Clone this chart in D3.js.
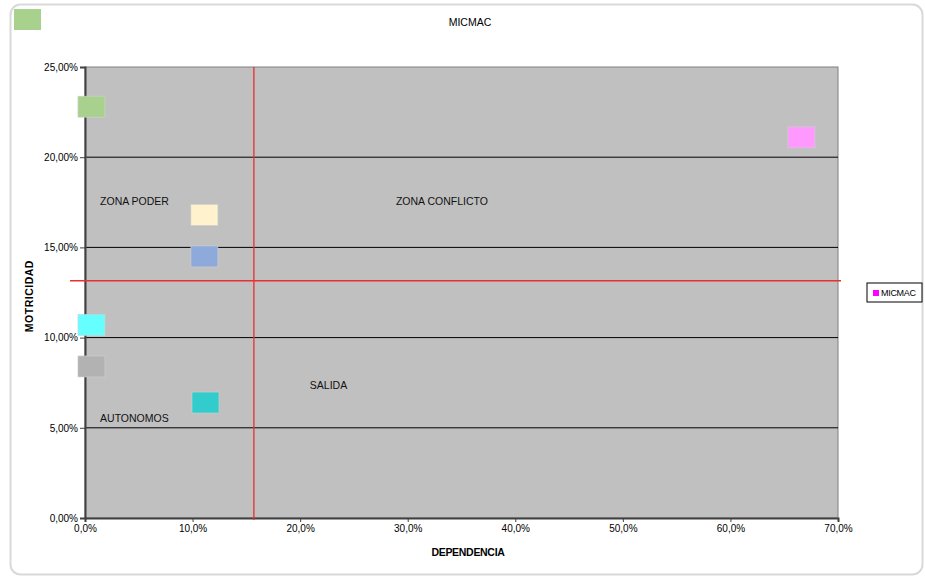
<!DOCTYPE html>
<html lang="en">
<head>
<meta charset="UTF-8">
<title>MICMAC</title>
<script src="https://d3js.org/d3.v7.min.js"></script>
<style>
  body { margin: 0; background: #fff; }
  svg { font-family: "Liberation Sans", Arial, sans-serif; }
  .tick text { font-size: 10px; fill: #000; }
</style>
</head>
<body>
<svg></svg>
<script>
    // dependencia (x) and motricidad (y), in percent
    var dependencia = [0.6, 0.6, 0.6, 11.1, 11.1, 11.2, 66.6];
    var motricidad = [22.8, 10.7, 8.4, 16.8, 14.5, 6.4, 21.1];
    var pointColors = ["#a9d18e", "#66ffff", "#b2b2b2", "#fff2cc", "#8eaadb", "#33cccc", "#ff99ff"];

    var xTicks = [0, 10, 20, 30, 40, 50, 60, 70];
    var yTicks = [0, 5, 10, 15, 20, 25];

    // cut lines
    var cutX = 15.7;
    var cutY = 13.15;

    var zoneNames = ["ZONA PODER", "ZONA CONFLICTO", "SALIDA", "AUTONOMOS"];
    var zoneX = [1.4, 28.9, 20.9, 1.4];
    var zoneY = [17.55, 17.55, 7.35, 5.55];

    var w = 925, h = 579;
    var pad = { top: 67, right: 87, bottom: 61, left: 85 };

    var svg = d3.select("svg").attr("width", w).attr("height", h);

    var x = d3.scaleLinear().domain([0, 70]).range([pad.left, w - pad.right]);
    var y = d3.scaleLinear().domain([0, 25]).range([h - pad.bottom, pad.top]);

    var fmt = function(v) { return v.toFixed(2).replace(".", ",") + "%"; };
    var fmtX = function(v) { return v.toFixed(1).replace(".", ",") + "%"; };

    // outer frame
    svg.append("rect")
        .attr("x", 10.5).attr("y", 4.5)
        .attr("width", 912).attr("height", 570)
        .attr("rx", 10)
        .attr("fill", "#fff")
        .attr("stroke", "#d9d9d9")
        .attr("stroke-width", 2);

    // stray legend swatch
    svg.append("rect")
        .attr("x", 14).attr("y", 9)
        .attr("width", 27).attr("height", 21)
        .attr("fill", pointColors[0]);

    // plot area
    svg.append("rect")
        .attr("x", x(0)).attr("y", y(25))
        .attr("width", x(70) - x(0)).attr("height", y(0) - y(25))
        .attr("fill", "#c0c0c0")
        .attr("stroke", "#808080");

    // gridlines
    svg.append("g")
        .selectAll("line")
        .data(yTicks.filter(d => d > 0 && d < 25))
        .join("line")
        .attr("x1", x(0)).attr("x2", x(70))
        .attr("y1", d => y(d)).attr("y2", d => y(d))
        .attr("stroke", "#000")
        .attr("stroke-width", 1);

    // axes
    var yAxis = d3.axisLeft(y).tickValues(yTicks).tickFormat(fmt).tickSize(5).tickPadding(2);
    var gy = svg.append("g")
        .attr("transform", "translate(" + x(0) + ",0)")
        .call(yAxis);
    gy.select(".domain").attr("stroke", "#404040").attr("stroke-width", 2);
    gy.selectAll(".tick line").attr("stroke", "#404040");

    var xAxis = d3.axisBottom(x).tickValues(xTicks).tickFormat(fmtX).tickSize(4).tickPadding(3);
    var gx = svg.append("g")
        .attr("transform", "translate(0," + y(0) + ")")
        .call(xAxis);
    gx.select(".domain").attr("stroke", "#404040").attr("stroke-width", 2);
    gx.selectAll(".tick line").attr("stroke", "#404040");

    // red cut lines
    svg.append("line")
        .attr("x1", x(cutX)).attr("x2", x(cutX))
        .attr("y1", y(25)).attr("y2", y(0) + 2)
        .attr("stroke", "#e8302e").attr("stroke-width", 1.3);
    svg.append("line")
        .attr("x1", x(0) - 15).attr("x2", x(70) + 3)
        .attr("y1", y(cutY)).attr("y2", y(cutY))
        .attr("stroke", "#e8302e").attr("stroke-width", 1.3);

    // points
    var mw = 27, mh = 21;
    svg.append("g")
        .selectAll("rect")
        .data(dependencia)
        .join("rect")
        .attr("x", (d, i) => x(d) - mw / 2)
        .attr("y", (d, i) => y(motricidad[i]) - mh / 2)
        .attr("width", mw).attr("height", mh)
        .attr("fill", (d, i) => pointColors[i])
        .attr("stroke", "#d0d0d0")
        .attr("stroke-width", 0.6);

    // zone labels
    svg.append("g")
        .selectAll("text")
        .data(zoneNames)
        .join("text")
        .attr("x", (d, i) => x(zoneX[i]))
        .attr("y", (d, i) => y(zoneY[i]))
        .attr("dy", "0.35em")
        .attr("font-size", 10.5)
        .attr("fill", "#111")
        .text(d => d);

    // title
    svg.append("text")
        .attr("x", 470).attr("y", 26)
        .attr("text-anchor", "middle")
        .attr("font-size", 10.5)
        .text("MICMAC");

    // axis titles
    svg.append("text")
        .attr("x", 468).attr("y", 556)
        .attr("text-anchor", "middle")
        .attr("font-size", 10.5)
        .attr("font-weight", "bold")
        .attr("letter-spacing", "-0.3px")
        .text("DEPENDENCIA");

    svg.append("text")
        .attr("transform", "translate(33," + y(12.3) + ") rotate(-90)")
        .attr("text-anchor", "middle")
        .attr("font-size", 10.5)
        .attr("font-weight", "bold")
        .attr("letter-spacing", "0.5px")
        .text("MOTRICIDAD");

    // legend
    var lg = svg.append("g").attr("transform", "translate(867,283)");
    lg.append("rect")
        .attr("width", 55).attr("height", 19)
        .attr("fill", "#fff").attr("stroke", "#000");
    lg.append("rect")
        .attr("x", 6).attr("y", 7)
        .attr("width", 6).attr("height", 6)
        .attr("fill", "#ff00ff");
    lg.append("text")
        .attr("x", 14).attr("y", 10)
        .attr("dy", "0.35em")
        .attr("font-size", 9)
        .attr("letter-spacing", "-0.3px")
        .text("MICMAC");
</script>
</body>
</html>
